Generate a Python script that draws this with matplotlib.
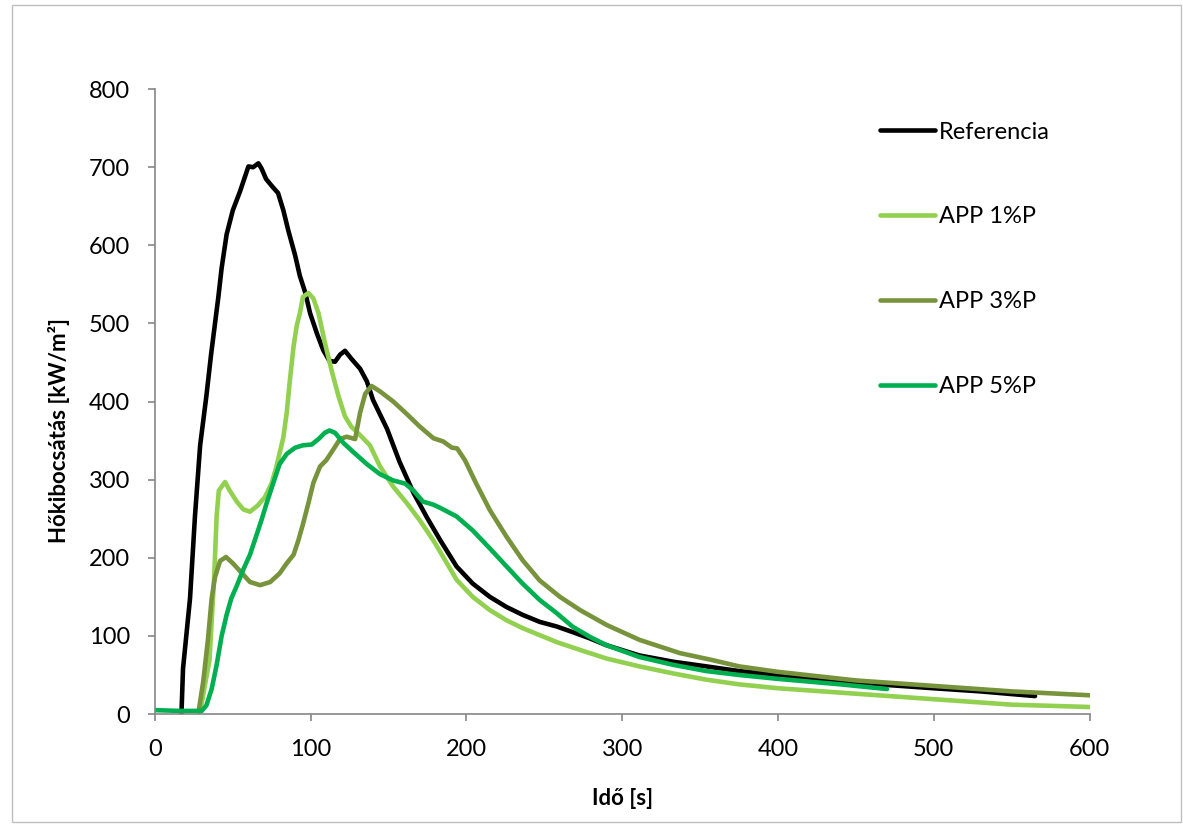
import matplotlib.pyplot as plt
from matplotlib.patches import Rectangle

plt.rcParams['font.family'] = ['Lato', 'DejaVu Sans']

# Referencia
t_ref = [17, 18, 22.5, 25.7, 29, 33, 36, 40.7, 42.8, 46, 50, 54.6, 57.8, 60, 63, 66.4,
         68.5, 71.3, 75, 79, 82.4, 85.6, 90, 93, 96.4, 99.6, 104, 108, 112, 115.6,
         118.8, 122, 126, 131.7, 136, 140, 149, 157, 166, 174.5, 183, 193.6, 204,
         215, 225.7, 236, 247, 258, 268, 279, 290, 311, 332.6, 354, 375, 400, 450,
         500, 530, 565]
q_ref = [0, 58, 148, 254, 344, 407, 460, 534, 571, 614, 645, 669, 688, 701, 700, 705,
         698, 685, 676, 667, 645, 619, 587, 561, 540, 513, 487, 466, 452, 451,
         460, 465, 455, 442, 426, 402, 365, 323, 283, 252, 223, 189, 167,
         150, 137, 127, 118, 112, 105, 97, 88, 75, 67, 61, 55, 50, 40,
         33, 29, 23]

# APP 1%P
t_1 = [28, 29, 35, 38, 39.6, 41, 45, 48, 52.5, 56.7, 61, 66, 70.7, 75, 78, 82.4, 84.6,
       86.7, 89, 91, 93, 95, 98.5, 101.7, 105, 109, 113.5, 117.8, 122, 126, 131.7,
       138, 144.5, 153, 161.7, 170, 178.8, 183, 193.6, 204, 215, 225.7, 236, 247,
       258, 273, 290, 311, 332.6, 354, 375, 400, 450, 500, 550, 600]
q_1 = [3, 3, 69, 175, 254, 286, 297, 286, 272, 262, 259, 267, 278, 296, 317, 354, 386,
       429, 471, 497, 513, 534, 539, 532, 513, 476, 439, 407, 381, 368, 357,
       344, 317, 291, 270, 248, 222, 208, 172, 150, 133, 120, 110, 101,
       92, 82, 71, 61, 52, 44, 38, 33, 26, 19, 12, 9]

# APP 3%P
t_3 = [28, 31, 34, 36.4, 38.5, 41.8, 45.6, 50, 54.6, 61, 67.5, 74, 80, 84.6, 89, 92,
       95, 98.5, 101.7, 106, 110, 114.6, 118.8, 123, 128.5, 131.7, 135, 139, 144.5,
       153, 161.7, 170, 178.8, 185, 190.6, 194, 199, 206, 215, 225.7, 236, 247,
       260, 273, 290, 311, 337, 358, 375, 400, 450, 500, 550, 600]
q_3 = [3, 42, 95, 148, 175, 196, 201, 193, 183, 169, 165, 169, 180, 193, 204, 222,
       243, 270, 296, 317, 325, 339, 352, 355, 352, 386, 410, 420, 413,
       400, 384, 368, 353, 349, 341, 340, 325, 296, 261, 227, 197, 171,
       150, 133, 114, 95, 78, 69, 61, 54, 43, 36, 29, 24]

# APP 5%P
t_5 = [0, 16, 30, 33, 36.4, 39.6, 42.8, 46, 49, 52.5, 56.7, 61, 65, 68.5, 71.7, 76, 80,
       84.6, 90, 95, 100.6, 105, 109, 112, 115.6, 121, 127, 136, 144.5, 153, 160.6,
       166, 172, 178.8, 183, 193.6, 204, 215, 225.7, 236, 247, 258, 268, 279, 290,
       311, 332.6, 354, 375, 400, 440, 470]
q_5 = [5, 4, 4, 11, 32, 63, 100, 127, 148, 164, 185, 204, 228, 249, 270, 296, 320,
       333, 341, 344, 345, 352, 360, 363, 360, 347, 336, 320, 307, 299, 295,
       286, 272, 268, 264, 253, 235, 212, 189, 167, 146, 129, 112, 99, 88,
       73, 63, 55, 50, 45, 38, 32]

labels = ['Referencia', 'APP 1%P', 'APP 3%P', 'APP 5%P']
colors = ['#000000', '#92D050', '#77933C', '#00B050']

fig = plt.figure(figsize=(11.83, 8.25), dpi=100)
fig.patches.append(Rectangle((0.01, 0.004), 0.988, 0.99, transform=fig.transFigure,
                             fill=False, edgecolor='#BFBFBF', lw=1))
ax = fig.add_axes([0.131, 0.1345, 0.79, 0.7575])

series = [(t_ref, q_ref), (t_1, q_1), (t_3, q_3), (t_5, q_5)]
for (t, q), c, lab in zip(series, colors, labels):
    ax.plot(t, q, color=c, lw=3.3, label=lab, solid_capstyle='round')

ax.set_xlim(0, 600)
ax.set_ylim(0, 800)
ax.set_xticks(range(0, 601, 100))
ax.set_yticks(range(0, 801, 100))
for s in ['top', 'right']:
    ax.spines[s].set_visible(False)
for s in ['left', 'bottom']:
    ax.spines[s].set_color('#868686')
    ax.spines[s].set_linewidth(1.2)
ax.tick_params(direction='out', length=5, width=1.2, color='#868686',
               labelsize=17, labelcolor='black')
ax.tick_params(axis='x', pad=13)
ax.tick_params(axis='y', pad=13)

ax.set_xlabel('Idő [s]', fontsize=16, fontweight='bold', labelpad=20)
ax.set_ylabel('Hőkibocsátás [kW/m²]', fontsize=16, fontweight='bold')
ax.yaxis.set_label_coords(-0.091, 0.454)

ax.legend(loc='upper left', bbox_to_anchor=(0.7754, 0.948), frameon=False, fontsize=17,
          handlelength=2.33, handletextpad=0.2, labelspacing=2.7,
          borderaxespad=0, borderpad=0)

fig.savefig('out.png', dpi=100)
